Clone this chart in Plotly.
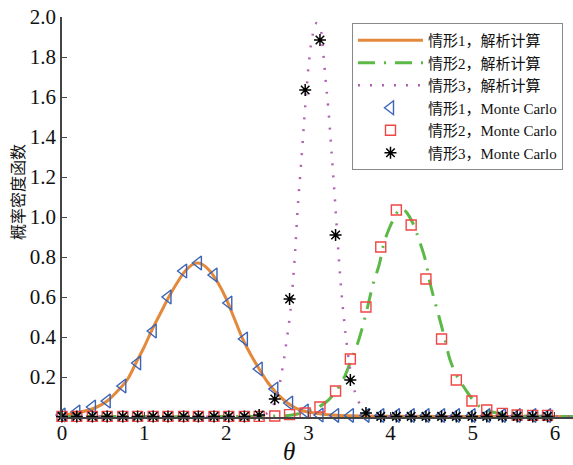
import plotly.graph_objects as go

# ---------------- data ----------------
# analytic curves
theta_c1 = [0.0, 0.2, 0.4, 0.55, 0.7, 0.8, 0.9, 1.0, 1.1, 1.2, 1.3, 1.4, 1.5, 1.6, 1.65, 1.7,
            1.8, 1.9, 2.0, 2.1, 2.2, 2.3, 2.4, 2.5, 2.6, 2.7, 2.8, 2.9, 3.0, 3.2, 3.5, 4.0, 5.0, 6.22]
pdf_c1 = [0.01, 0.022, 0.045, 0.08, 0.14, 0.19, 0.27, 0.35, 0.44, 0.52, 0.60, 0.67, 0.73, 0.765, 0.77, 0.765,
          0.73, 0.67, 0.59, 0.49, 0.39, 0.31, 0.24, 0.175, 0.125, 0.085, 0.055, 0.035, 0.025, 0.012, 0.006, 0.004, 0.003, 0.003]

theta_c2 = [0.0, 1.0, 2.0, 2.5, 2.8, 3.0, 3.1, 3.2, 3.3, 3.42, 3.52, 3.6, 3.69, 3.79, 3.86, 3.92, 3.99, 4.05,
            4.1, 4.15, 4.2, 4.27, 4.35, 4.42, 4.48, 4.53, 4.6, 4.66, 4.72, 4.8, 4.86, 4.94, 5.06, 5.2, 5.4, 5.6, 6.0, 6.22]
pdf_c2 = [0.002, 0.002, 0.002, 0.004, 0.01, 0.03, 0.045, 0.07, 0.11, 0.185, 0.285, 0.37, 0.50, 0.67, 0.76, 0.87, 0.95, 1.0,
          1.035, 1.04, 1.02, 0.97, 0.88, 0.79, 0.67, 0.59, 0.485, 0.39, 0.29, 0.21, 0.17, 0.12, 0.06, 0.03, 0.012, 0.006, 0.003, 0.002]

theta_c3 = [0.0, 1.0, 2.0, 2.3, 2.4, 2.5, 2.55, 2.61, 2.67, 2.73, 2.78, 2.83, 2.87, 2.92, 2.96, 3.01, 3.05, 3.1,
            3.14, 3.18, 3.21, 3.24, 3.28, 3.32, 3.36, 3.4, 3.43, 3.46, 3.5, 3.54, 3.59, 3.65, 3.75, 3.9, 5.0, 6.22]
pdf_c3 = [0.002, 0.002, 0.002, 0.003, 0.006, 0.02, 0.043, 0.10, 0.21, 0.37, 0.53, 0.78, 1.05, 1.32, 1.55, 1.79, 1.91, 1.97,
          1.95, 1.82, 1.68, 1.55, 1.33, 1.10, 0.85, 0.63, 0.50, 0.385, 0.26, 0.16, 0.10, 0.045, 0.012, 0.003, 0.002, 0.002]

# Monte Carlo samples
theta_mc = [0.00, 0.18, 0.37, 0.55, 0.74, 0.92, 1.11, 1.29, 1.48, 1.66, 1.85, 2.03, 2.22, 2.40, 2.59, 2.77, 2.96,
            3.14, 3.33, 3.51, 3.70, 3.88, 4.07, 4.25, 4.43, 4.62, 4.80, 4.99, 5.17, 5.36, 5.54, 5.73, 5.91]
mc_c1 = [0.01, 0.025, 0.05, 0.08, 0.155, 0.27, 0.43, 0.60, 0.73, 0.77, 0.71, 0.57, 0.39, 0.24, 0.14, 0.07, 0.03,
         0.01, 0.008, 0.008, 0.008, 0.008, 0.008, 0.008, 0.008, 0.008, 0.008, 0.008, 0.008, 0.008, 0.008, 0.008, 0.008]
mc_c2 = [0.003, 0.003, 0.003, 0.003, 0.003, 0.003, 0.003, 0.003, 0.003, 0.003, 0.003, 0.003, 0.003, 0.003, 0.005, 0.012, 0.02,
         0.05, 0.13, 0.29, 0.55, 0.85, 1.035, 0.96, 0.69, 0.39, 0.185, 0.08, 0.035, 0.018, 0.01, 0.008, 0.008]
mc_c3 = [0.003, 0.003, 0.003, 0.003, 0.003, 0.003, 0.003, 0.003, 0.003, 0.003, 0.003, 0.003, 0.003, 0.01, 0.09, 0.59, 1.635,
         1.885, 0.91, 0.185, 0.02, 0.003, 0.003, 0.003, 0.003, 0.003, 0.003, 0.003, 0.003, 0.003, 0.003, 0.003, 0.003]

names = ["情形1，解析计算", "情形2，解析计算", "情形3，解析计算",
         "情形1，Monte Carlo", "情形2，Monte Carlo", "情形3，Monte Carlo"]
x_ticks = [0, 1, 2, 3, 4, 5, 6]
y_ticks = [0.2, 0.4, 0.6, 0.8, 1.0, 1.2, 1.4, 1.6, 1.8, 2.0]
y_ticktext = ["0.2", "0.4", "0.6", "0.8", "1.0", "1.2", "1.4", "1.6", "1.8", "2.0"]

# ---------------- styles ----------------
SERIF = "Liberation Serif, 'Noto Sans CJK SC', serif"
C_OR = "#E3893C"
C_GR = "#5CB947"
C_PU = "#B061B5"
C_BL = "#3A63B8"
C_RD = "#F04646"

fig = go.Figure()
fig.add_trace(go.Scatter(x=theta_c1, y=pdf_c1, mode="lines", name=names[0],
                         line=dict(color=C_OR, width=3, shape="spline", smoothing=1)))
fig.add_trace(go.Scatter(x=theta_c2, y=pdf_c2, mode="lines", name=names[1],
                         line=dict(color=C_GR, width=3, shape="spline", smoothing=1, dash="17px,9px,2px,9px")))
fig.add_trace(go.Scatter(x=theta_c3, y=pdf_c3, mode="lines", name=names[2],
                         line=dict(color=C_PU, width=2.5, shape="spline", smoothing=1, dash="2px,10px")))
fig.add_trace(go.Scatter(x=theta_mc, y=mc_c1, mode="markers", name=names[3], cliponaxis=False,
                         marker=dict(symbol="triangle-left-open", size=12, color=C_BL, line=dict(width=1.4, color=C_BL))))
fig.add_trace(go.Scatter(x=theta_mc, y=mc_c2, mode="markers", name=names[4], cliponaxis=False,
                         marker=dict(symbol="square-open", size=10, color=C_RD, line=dict(width=1.4, color=C_RD))))
fig.add_trace(go.Scatter(x=theta_mc, y=mc_c3, mode="markers", name=names[5], cliponaxis=False,
                         marker=dict(symbol="asterisk-open", size=10, color="black", line=dict(width=1.5, color="black"))))

axis_col = "#444444"
fig.update_layout(
    width=573, height=465,
    margin=dict(l=62, r=0, t=17, b=48, autoexpand=False),
    paper_bgcolor="white", plot_bgcolor="white",
    font=dict(family=SERIF, color="#111111"),
    xaxis=dict(range=[0, 6.22], tickvals=x_ticks, ticks="inside", ticklen=5, tickcolor=axis_col,
               showline=True, linecolor=axis_col, linewidth=1.6, showgrid=False, zeroline=False,
               automargin=False,
               tickfont=dict(family=SERIF, size=21, color="#111111"), ticklabelstandoff=-4),
    yaxis=dict(range=[0, 2.0], tickvals=y_ticks, ticktext=y_ticktext, ticks="inside", ticklen=5, tickcolor=axis_col,
               showline=True, linecolor=axis_col, linewidth=1.6, showgrid=False, zeroline=False,
               automargin=False,
               tickfont=dict(family=SERIF, size=21, color="#111111")),
    showlegend=True,
    legend=dict(x=0.5675, y=0.985, xanchor="left", yanchor="top", bgcolor="white",
                bordercolor="#888888", borderwidth=1, itemwidth=65,
                font=dict(family=SERIF, size=15, color="#111111")),
    annotations=[
        dict(text="概率密度函数", xref="paper", yref="paper", x=-0.0861, y=0.5625, textangle=-90,
             xanchor="center", yanchor="middle",
             showarrow=False, font=dict(family=SERIF, size=16, color="#111111")),
        dict(text="<i>θ</i>", xref="paper", yref="paper", x=0.444, y=-0.0875,
             xanchor="center", yanchor="middle",
             showarrow=False, font=dict(family=SERIF, size=25, color="#111111")),
    ],
)

fig.write_html("out.html", config={"displayModeBar": False},
               post_script="document.body.style.margin='0';document.body.style.overflow='hidden';")
